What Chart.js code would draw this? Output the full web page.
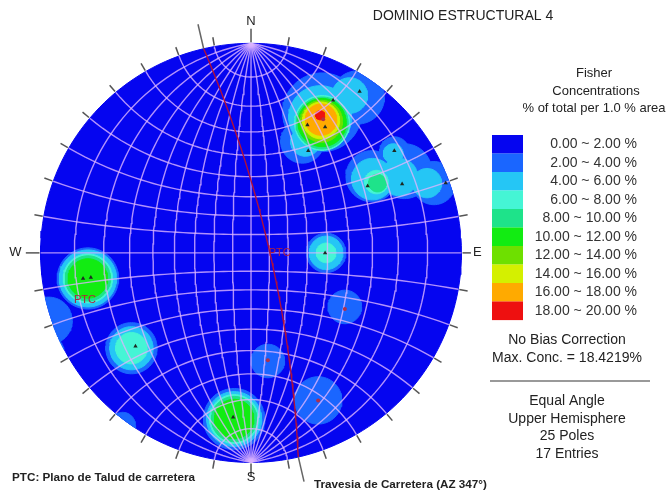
<!DOCTYPE html>
<html lang="es">
<head>
  <meta charset="UTF-8" />
  <title>Dominio Estructural 4</title>
  <script src="https://cdn.jsdelivr.net/npm/chart.js"></script>
  <style>
    html, body { margin: 0; padding: 0; background: #fff; }
    #net { display: block; }
  </style>
</head>
<body>
  <canvas id="net" width="671" height="492"></canvas>

  <script>
    // legend bands (Fisher concentrations)
    const bandLabels = ['0.00 ~ 2.00 %', '2.00 ~ 4.00 %', '4.00 ~ 6.00 %', '6.00 ~ 8.00 %', '8.00 ~ 10.00 %',
                        '10.00 ~ 12.00 %', '12.00 ~ 14.00 %', '14.00 ~ 16.00 %', '16.00 ~ 18.00 %', '18.00 ~ 20.00 %'];
    const bandColors = ['#0505f0', '#1a66ff', '#25c6f5', '#45f5d5', '#1ee38a',
                        '#12ec12', '#6ee000', '#d4f000', '#ffaa00', '#ee1010'];

    // poles in net coordinates (primitive radius = 1, x east, y north)
    const poleX = [0.390, 0.516, 0.268, 0.352, 0.272, 0.554, 0.681, 0.718, 0.925, 0.352, -0.798, -0.761, -0.549, -0.085];
    const poleY = [0.728, 0.770, 0.610, 0.601, 0.488, 0.319, 0.488, 0.329, 0.333, 0.000, -0.122, -0.117, -0.446, -0.784];
    const faintPoleX = [0.343, 0.080, 0.319, 0.446];
    const faintPoleY = [0.638, -0.512, -0.704, -0.268];

    // density contours, approximated by circles [x, y, r] per band
    const contour2to4 = [[0.338, 0.671, 0.188], [0.507, 0.742, 0.127], [0.244, 0.531, 0.103],
                         [0.573, 0.366, 0.122], [0.728, 0.390, 0.131], [0.869, 0.333, 0.103], [0.681, 0.484, 0.070],
                         [0.357, 0.000, 0.094], [-0.775, -0.122, 0.146], [-0.962, -0.324, 0.113], [-0.977, -0.432, 0.066],
                         [-0.610, -0.822, 0.061], [-0.568, -0.455, 0.122], [-0.080, -0.793, 0.146],
                         [0.080, -0.516, 0.080], [0.319, -0.704, 0.113], [0.446, -0.258, 0.080]];
    const contour4to6 = [[0.329, 0.648, 0.150], [0.469, 0.751, 0.085], [0.258, 0.531, 0.070],
                         [0.577, 0.352, 0.099], [0.704, 0.362, 0.089], [0.836, 0.333, 0.070], [0.676, 0.474, 0.047],
                         [0.357, 0.000, 0.080], [-0.775, -0.122, 0.136], [-0.568, -0.455, 0.103], [-0.080, -0.793, 0.131]];
    const contour6to8 = [[0.338, 0.620, 0.131], [0.596, 0.338, 0.056], [0.357, 0.000, 0.047],
                         [-0.775, -0.122, 0.117], [-0.568, -0.455, 0.075], [-0.080, -0.793, 0.117]];
    const contour8to10 = [[0.338, 0.620, 0.124], [0.601, 0.333, 0.042], [-0.775, -0.122, 0.108], [-0.080, -0.793, 0.108]];
    const contour10to12 = [[0.338, 0.622, 0.115], [-0.775, -0.122, 0.094], [-0.080, -0.793, 0.094]];
    const contour12to14 = [[0.335, 0.628, 0.100]];
    const contour14to16 = [[0.333, 0.632, 0.088]];
    const contour16to18 = [[0.333, 0.636, 0.075]];
    const contour18to20 = [[0.329, 0.657, 0.022]];
    const contourBands = [contour2to4, contour4to6, contour6to8, contour8to10, contour10to12,
                          contour12to14, contour14to16, contour16to18, contour18to20];

    // road trace and slope plane
    const roadAz = 347;
    const ptcStrike = 347, ptcDip = 80;

    const infoLines = ['No Bias Correction', 'Max. Conc. = 18.4219%'];
    const netLines = ['Equal Angle', 'Upper Hemisphere', '25 Poles', '17 Entries'];

    // ---- geometry helpers ----
    const R = 213, cx = 250, cy = 253;   // primitive circle on the canvas
    const deg = Math.PI / 180;
    const gridColor = 'rgba(220,180,255,0.8)';
    const project = (X, Y, Z) => ({ x: X / (1 + Z), y: Y / (1 + Z) });

    function ring(x0, y0, r, n = 72) {
      const pts = [];
      for (let i = 0; i <= n; i++) {
        const a = i / n * 2 * Math.PI;
        let x = x0 + r * Math.cos(a), y = y0 + r * Math.sin(a);
        const d = Math.hypot(x, y);
        if (d > 1) { x /= d; y /= d; }
        pts.push({ x, y });
      }
      return pts;
    }

    const layers = [];
    function shape(points, color) {
      layers.push({ data: points, showLine: true, fill: 'shape', backgroundColor: color,
                    borderColor: color, borderWidth: 1, pointRadius: 0, tension: 0 });
    }
    function path(points, color, width) {
      layers.push({ data: points, showLine: true, fill: false, borderColor: color,
                    borderWidth: width, pointRadius: 0, tension: 0 });
    }

    // background disc
    shape(ring(0, 0, 1, 180), bandColors[0]);

    // contour bands, low to high
    contourBands.forEach((circles, i) => {
      circles.forEach(c => shape(ring(c[0], c[1], c[2]), bandColors[i + 1]));
    });

    // Wulff net: great circles through N and S
    for (let a = -80; a <= 80; a += 10) {
      const pts = [];
      for (let t = -90; t <= 90; t += 2) {
        const c = Math.cos(t * deg);
        pts.push(project(c * Math.sin(a * deg), Math.sin(t * deg), c * Math.cos(a * deg)));
      }
      path(pts, gridColor, 1.4);
    }
    // small circles about the N-S axis
    for (let b = 10; b <= 170; b += 10) {
      const pts = [];
      for (let s = 0; s <= 180; s += 3) {
        pts.push(project(Math.sin(b * deg) * Math.cos(s * deg), Math.cos(b * deg), Math.sin(b * deg) * Math.sin(s * deg)));
      }
      path(pts, gridColor, 1.4);
    }

    // slope plane great circle
    {
      const sv = [Math.sin(ptcStrike * deg), Math.cos(ptcStrike * deg), 0];
      const dd = (ptcStrike + 90) * deg, dp = ptcDip * deg;
      const dv = [Math.cos(dp) * Math.sin(dd), Math.cos(dp) * Math.cos(dd), Math.sin(dp)];
      const pts = [];
      for (let t = 0; t <= 180; t += 2) {
        const c = Math.cos(t * deg), s = Math.sin(t * deg);
        pts.push(project(c * sv[0] + s * dv[0], c * sv[1] + s * dv[1], c * sv[2] + s * dv[2]));
      }
      path(pts, '#b0103a', 1.4);
    }

    // road trace outside the net
    [roadAz, roadAz - 180].forEach(az => {
      const ux = Math.sin(az * deg), uy = Math.cos(az * deg);
      path([{ x: ux, y: uy }, { x: ux * 1.12, y: uy * 1.12 }], '#666', 1.5);
    });

    // perimeter ticks
    for (let az = 0; az < 360; az += 10) {
      const ux = Math.sin(az * deg), uy = Math.cos(az * deg);
      const outer = az % 90 === 0 ? (az === 90 ? 1.045 : 1.07) : 1.045;
      path([{ x: ux * 1.005, y: uy * 1.005 }, { x: ux * outer, y: uy * outer }], '#555', 1.5);
    }

    // poles
    layers.push({ data: faintPoleX.map((x, i) => ({ x, y: faintPoleY[i] })), pointStyle: 'circle',
                  pointRadius: 2, backgroundColor: '#b0304a', borderWidth: 0 });
    layers.push({ data: poleX.map((x, i) => ({ x, y: poleY[i] })), pointStyle: 'triangle',
                  pointRadius: 2.5, backgroundColor: '#1d2a22', borderWidth: 0 });

    // text and legend
    const netText = {
      id: 'netText',
      afterDraw(chart) {
        const ctx = chart.ctx;
        const px = v => chart.scales.x.getPixelForValue(v);
        const py = v => chart.scales.y.getPixelForValue(v);
        ctx.save();
        ctx.fillStyle = '#222';
        ctx.textBaseline = 'middle';
        ctx.textAlign = 'center';

        ctx.font = '13px "Liberation Sans", Arial, sans-serif';
        ctx.fillText('N', px(0), py(1.105));
        ctx.fillText('S', px(0), py(-1.07));
        ctx.fillText('W', px(-1.12), py(0));
        ctx.fillText('E', px(1.075), py(0));

        ctx.fillStyle = '#b02040';
        ctx.font = '11px "Liberation Sans", Arial, sans-serif';
        ctx.fillText('PTC', px(0.136), py(0));
        ctx.fillText('PTC', px(-0.789), py(-0.225));

        ctx.fillStyle = '#222';
        ctx.font = '14px "Liberation Sans", Arial, sans-serif';
        ctx.fillText('DOMINIO ESTRUCTURAL 4', 463, 16);

        ctx.font = '13px "Liberation Sans", Arial, sans-serif';
        ctx.fillText('Fisher', 594, 73);
        ctx.fillText('Concentrations', 596, 91);
        ctx.fillText('% of total per 1.0 % area', 594, 108);

        // colour bands
        ctx.font = '14px "Liberation Sans", Arial, sans-serif';
        bandLabels.forEach((label, i) => {
          const top = 135 + i * 18.5;
          ctx.fillStyle = bandColors[i];
          ctx.fillRect(492, top, 31, 18.6);
          ctx.fillStyle = '#333';
          ctx.textAlign = 'right';
          ctx.fillText(label, 637, top + 9.5);
        });

        ctx.textAlign = 'center';
        ctx.fillStyle = '#222';
        infoLines.forEach((t, i) => ctx.fillText(t, 567, 340 + i * 18));
        ctx.strokeStyle = '#999';
        ctx.lineWidth = 2;
        ctx.beginPath();
        ctx.moveTo(490, 381);
        ctx.lineTo(650, 381);
        ctx.stroke();
        netLines.forEach((t, i) => ctx.fillText(t, 567, 401 + i * 17.7));

        ctx.font = 'bold 11.7px "Liberation Sans", Arial, sans-serif';
        ctx.textAlign = 'left';
        ctx.fillText('PTC: Plano de Talud de carretera', 12, 478);
        ctx.fillText('Travesia de Carretera (AZ 347°)', 314, 485);
        ctx.restore();
      }
    };

    new Chart(document.getElementById('net'), {
      type: 'scatter',
      data: { datasets: layers.slice().reverse() },
      options: {
        responsive: false,
        animation: false,
        events: [],
        layout: { padding: 0 },
        plugins: { legend: { display: false }, tooltip: { enabled: false } },
        scales: {
          x: { type: 'linear', min: -cx / R, max: (671 - cx) / R, display: false },
          y: { type: 'linear', min: -(492 - cy) / R, max: cy / R, display: false }
        }
      },
      plugins: [netText]
    });
  </script>
</body>
</html>
